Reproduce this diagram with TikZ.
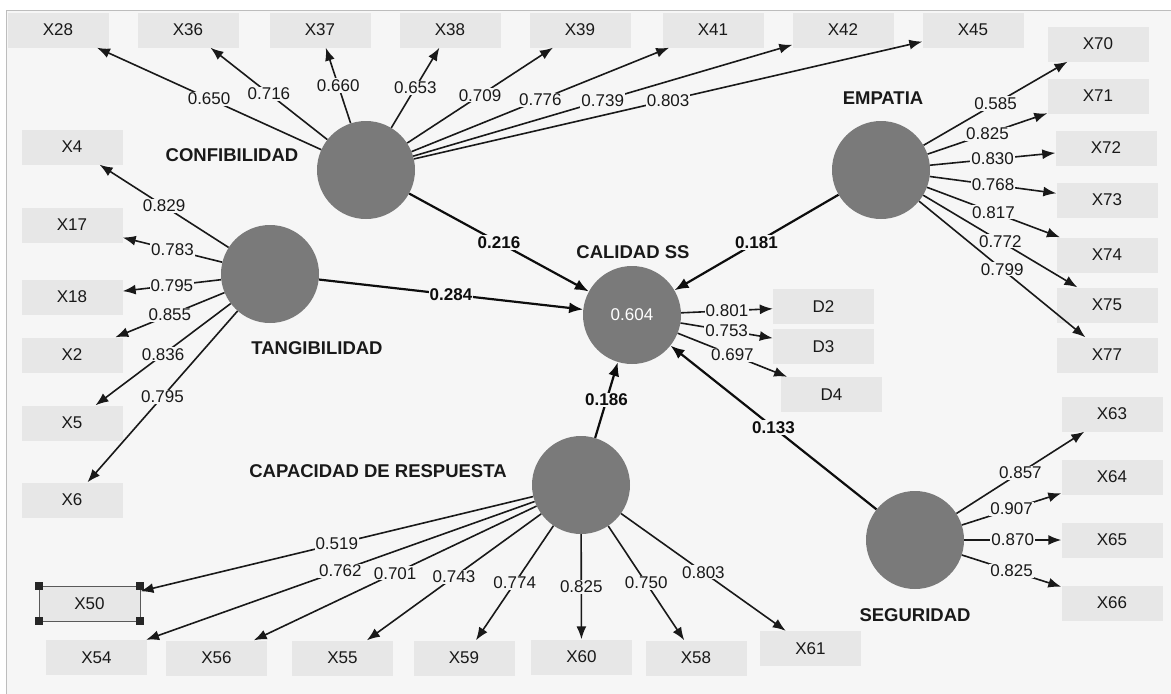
\documentclass[tikz,border=0pt]{standalone}
\usepackage{fontspec}
\setmainfont{Liberation Sans}
\usetikzlibrary{calc,arrows.meta}
\definecolor{bg}{HTML}{F6F6F6}
\definecolor{boxc}{HTML}{E7E7E7}
\definecolor{circ}{HTML}{7A7A7A}
\definecolor{framec}{HTML}{BDBDBD}
\begin{document}
\begin{tikzpicture}[x=1pt,y=-1pt,
 ind/.style={fill=boxc, minimum width=101pt, minimum height=35pt, inner sep=0pt, text=black!90, font=\fontsize{17}{17}\selectfont},
 lv/.style={circle, fill=circ, minimum size=98pt, inner sep=0pt},
 cname/.style={inner sep=0pt, text=black!90, font=\bfseries\fontsize{18.5}{19}\selectfont},
 ld/.style={line width=1.6pt, draw=black!90, -{Latex[length=13pt,width=10pt]}},
 pth/.style={line width=2.2pt, draw=black!95, -{Latex[length=14pt,width=11pt]}},
 lbl/.style={fill=bg, inner sep=1pt, text=black!90, font=\fontsize{17}{17}\selectfont},
 plbl/.style={fill=bg, inner sep=1pt, text=black!95, font=\bfseries\fontsize{17}{17}\selectfont},
 handle/.style={fill=black!85, minimum size=8pt, inner sep=0pt}]

\useasboundingbox (0,0) rectangle (1171,694);
\fill[white] (0,0) rectangle (1171,694);
\filldraw[fill=bg, draw=framec, line width=1pt] (6,10) rectangle (1180,704);

% latent variables
\node[lv] (conf) at (366,170) {};
\node[lv] (tang) at (270,274) {};
\node[lv] (emp)  at (881,170) {};
\node[lv, text=white, font=\fontsize{17}{17}\selectfont] (cal) at (632,315) {0.604};
\node[lv] (cap)  at (581,485) {};
\node[lv] (seg)  at (915,540) {};

% construct names
\node[cname] (nconf) at (232,155) {CONFIBILIDAD};
\node[cname] (ntang) at (317,348) {TANGIBILIDAD};
\node[cname] (nemp)  at (883,98)  {EMPATIA};
\node[cname] (ncal)  at (633,252) {CALIDAD SS};
\node[cname] (ncap)  at (378,471) {CAPACIDAD DE RESPUESTA};
\node[cname] (nseg)  at (915,615) {SEGURIDAD};

% indicators: top row
\node[ind] (x28) at (58,30)  {X28};
\node[ind] (x36) at (188,30) {X36};
\node[ind] (x37) at (320,30) {X37};
\node[ind] (x38) at (450,30) {X38};
\node[ind] (x39) at (580,30) {X39};
\node[ind] (x41) at (713,30) {X41};
\node[ind] (x42) at (843,30) {X42};
\node[ind] (x45) at (973,30) {X45};
% left column
\node[ind] (x4)  at (72,147) {X4};
\node[ind] (x17) at (72,225) {X17};
\node[ind] (x18) at (72,297) {X18};
\node[ind] (x2)  at (72,355) {X2};
\node[ind] (x5)  at (72,423) {X5};
\node[ind] (x6)  at (72,500) {X6};
% right column (empatia)
\node[ind] (x70) at (1098,44)  {X70};
\node[ind] (x71) at (1098,96)  {X71};
\node[ind] (x72) at (1106,148) {X72};
\node[ind] (x73) at (1107,200) {X73};
\node[ind] (x74) at (1107,255) {X74};
\node[ind] (x75) at (1107,305) {X75};
\node[ind] (x77) at (1107,355) {X77};
% seguridad
\node[ind] (x63) at (1112,414) {X63};
\node[ind] (x64) at (1112,477) {X64};
\node[ind] (x65) at (1112,540) {X65};
\node[ind] (x66) at (1112,603) {X66};
% calidad
\node[ind] (d2) at (823.5,306.5) {D2};
\node[ind] (d3) at (823.5,346.5) {D3};
\node[ind] (d4) at (831.5,394.5) {D4};
% bottom row
\node[ind, draw=black!65, line width=0.9pt] (x50) at (89.5,603.5) {X50};
\node[ind] (x54) at (96.5,657.5) {X54};
\node[ind] (x56) at (216.5,658) {X56};
\node[ind] (x55) at (342.5,658) {X55};
\node[ind] (x59) at (464,658)   {X59};
\node[ind] (x60) at (581.5,657) {X60};
\node[ind] (x58) at (696,658)   {X58};
\node[ind] (x61) at (810.5,648.5) {X61};

\node[handle] (h1) at (x50.north west) {};
\node[handle] (h2) at (x50.north east) {};
\node[handle] (h3) at (x50.south west) {};
\node[handle] (h4) at (x50.south east) {};

\def\loadings{conf/x28/0.650, conf/x36/0.716, conf/x37/0.660, conf/x38/0.653,
 conf/x39/0.709, conf/x41/0.776, conf/x42/0.739, conf/x45/0.803,
 tang/x4/0.829, tang/x17/0.783, tang/x18/0.795, tang/x2/0.855, tang/x5/0.836, tang/x6/0.795,
 emp/x70/0.585, emp/x71/0.825, emp/x72/0.830, emp/x73/0.768, emp/x74/0.817, emp/x75/0.772, emp/x77/0.799,
 seg/x63/0.857, seg/x64/0.907, seg/x65/0.870, seg/x66/0.825,
 cal/d2/0.801, cal/d3/0.753, cal/d4/0.697,
 cap/x50/0.519, cap/x54/0.762, cap/x56/0.701, cap/x55/0.743, cap/x59/0.774,
 cap/x60/0.825, cap/x58/0.750, cap/x61/0.803}

\foreach \s/\t/\v in \loadings {\draw[ld] (\s) -- (\t);}
\foreach \s in {conf, tang, emp, cap, seg} {\draw[pth] (\s) -- (cal);}

\foreach \s/\t/\v in \loadings {\path (\s) -- node[lbl] (l\t) {\v} (\t);}
\foreach \s/\v in {conf/0.216, tang/0.284, emp/0.181, cap/0.186, seg/0.133}
 {\path (\s) -- node[plbl] (p\s) {\v} (cal);}
\end{tikzpicture}
\end{document}
